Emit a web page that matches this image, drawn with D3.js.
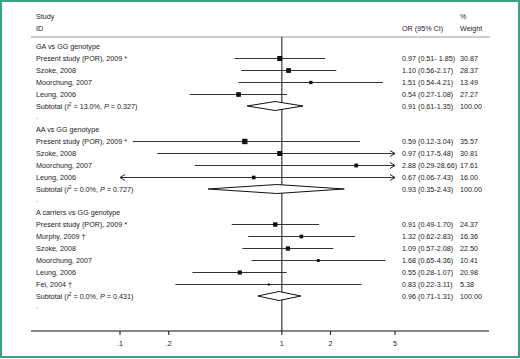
<!DOCTYPE html>
<html lang="en">
<head>
<meta charset="utf-8">
<title>Forest plot</title>
<style>
    body { margin: 0; background: #fff; }
    text { font-family: "Liberation Sans", Arial, sans-serif; font-size: 7.2px; fill: #222; }
</style>
</head>
<body>
<div id="chart"></div>
<script src="https://cdn.jsdelivr.net/npm/d3@7"></script>
<script>
    var width = 520, height = 359;

    // data
    var groups = ["GA vs GG genotype", "AA vs GG genotype", "A carriers vs GG genotype"];
    var groupStudies = [
        ["Present study (POR), 2009 *", "Szoke, 2008", "Moorchung, 2007", "Leung, 2006"],
        ["Present study (POR), 2009 *", "Szoke, 2008", "Moorchung, 2007", "Leung, 2006"],
        ["Present study (POR), 2009 *", "Murphy, 2009 \u2020", "Szoke, 2008", "Moorchung, 2007", "Leung, 2006", "Fei, 2004 \u2020"]
    ];
    var orValues = [[0.97, 1.10, 1.51, 0.54], [0.59, 0.97, 2.88, 0.67], [0.91, 1.32, 1.09, 1.68, 0.55, 0.83]];
    var ciLow = [[0.51, 0.56, 0.54, 0.27], [0.12, 0.17, 0.29, 0.06], [0.49, 0.62, 0.57, 0.65, 0.28, 0.22]];
    var ciHigh = [[1.85, 2.17, 4.21, 1.08], [3.04, 5.48, 28.66, 7.43], [1.70, 2.83, 2.08, 4.36, 1.07, 3.11]];
    var weights = [[30.87, 28.37, 13.49, 27.27], [35.57, 30.81, 17.61, 16.00], [24.37, 16.36, 22.50, 10.41, 20.98, 5.38]];
    var ciText = [
        ["0.97 (0.51- 1.85)", "1.10 (0.56-2.17)", "1.51 (0.54-4.21)", "0.54 (0.27-1.08)"],
        ["0.59 (0.12-3.04)", "0.97 (0.17-5.48)", "2.88 (0.29-28.66)", "0.67 (0.06-7.43)"],
        ["0.91 (0.49-1.70)", "1.32 (0.62-2.83)", "1.09 (0.57-2.08)", "1.68 (0.65-4.36)", "0.55 (0.28-1.07)", "0.83 (0.22-3.11)"]
    ];
    var subOR = [0.91, 0.93, 0.96];
    var subLow = [0.61, 0.35, 0.71];
    var subHigh = [1.35, 2.43, 1.31];
    var subText = ["0.91 (0.61-1.35)", "0.93 (0.35-2.43)", "0.96 (0.71-1.31)"];
    var subI2 = ["13.0%", "0.0%", "0.0%"];
    var subP = ["0.327", "0.727", "0.431"];
    var tickValues = [0.1, 0.2, 1, 2, 5];
    var tickLabels = [".1", ".2", "1", "2", "5"];

    var svg = d3.select("#chart").append("svg")
        .attr("width", width).attr("height", height);

    svg.append("rect")
        .attr("x", 1).attr("y", 1)
        .attr("width", width - 2).attr("height", height - 3)
        .attr("fill", "#fff")
        .attr("stroke", "#3aa384").attr("stroke-width", 2);

    var x = d3.scaleLog().domain([0.1, 5]).range([120, 395]);
    var rowH = 12;
    var labelX = 36, ciX = 402, wX = 460;
    var axisY = 331, topY = 37;

    // header
    svg.append("text").attr("x", labelX).attr("y", 18.5).text("Study");
    svg.append("text").attr("x", labelX).attr("y", 30.5).text("ID");
    svg.append("text").attr("x", ciX).attr("y", 30.5).text("OR (95% CI)");
    svg.append("text").attr("x", wX).attr("y", 18.5).text("%");
    svg.append("text").attr("x", wX).attr("y", 30.5).text("Weight");
    svg.append("line")
        .attr("x1", 31).attr("x2", 490).attr("y1", topY).attr("y2", topY)
        .attr("stroke", "#bbb").attr("stroke-width", 1.5);

    // null line
    svg.append("line")
        .attr("x1", x(1)).attr("x2", x(1)).attr("y1", topY).attr("y2", axisY)
        .attr("stroke", "#111").attr("stroke-width", 1);

    var sizeK = 0.9;
    var lo = x.domain()[0], hi = x.domain()[1];

    function arrow(px, py, dir) {
        svg.append("path")
            .attr("d", "M" + (px - dir * 5) + "," + (py - 3) + "L" + px + "," + py + "L" + (px - dir * 5) + "," + (py + 3))
            .attr("fill", "none").attr("stroke", "#222").attr("stroke-width", 1);
    }

    var y = 48.5;
    groups.forEach(function(g, gi) {
        svg.append("text").attr("x", labelX).attr("y", y).text(g);
        y += rowH;
        groupStudies[gi].forEach(function(s, si) {
            var cy = Math.round(y - 2.5) + 0.5;
            svg.append("text").attr("x", labelX).attr("y", y).text(s);
            svg.append("text").attr("x", ciX).attr("y", y).text(ciText[gi][si]);
            svg.append("text").attr("x", wX).attr("y", y).text(weights[gi][si].toFixed(2));
            var l = ciLow[gi][si], h = ciHigh[gi][si];
            svg.append("line")
                .attr("x1", x(Math.max(l, lo))).attr("x2", x(Math.min(h, hi)))
                .attr("y1", cy).attr("y2", cy)
                .attr("stroke", "#333").attr("stroke-width", 1);
            if (l < lo) arrow(x(lo), cy, -1);
            if (h > hi) arrow(x(hi), cy, 1);
            var sz = sizeK * Math.sqrt(weights[gi][si]);
            svg.append("rect")
                .attr("x", x(orValues[gi][si]) - sz / 2).attr("y", cy - sz / 2)
                .attr("width", sz).attr("height", sz)
                .attr("fill", "#111");
            y += rowH;
        });
        // subtotal
        var t = svg.append("text").attr("x", labelX).attr("y", y);
        t.append("tspan").text("Subtotal  (");
        t.append("tspan").attr("font-style", "italic").text("I");
        t.append("tspan").attr("font-size", "4.8px").attr("dy", -2.5).text("2");
        t.append("tspan").attr("dy", 2.5).text(" = " + subI2[gi] + ", ");
        t.append("tspan").attr("font-style", "italic").text("P");
        t.append("tspan").text(" = " + subP[gi] + ")");
        svg.append("text").attr("x", ciX).attr("y", y).text(subText[gi]);
        svg.append("text").attr("x", wX).attr("y", y).text("100.00");
        var dy = y - 2.5;
        svg.append("path")
            .attr("d", "M" + x(subLow[gi]) + "," + dy + "L" + x(subOR[gi]) + "," + (dy - 4.5) +
                "L" + x(subHigh[gi]) + "," + dy + "L" + x(subOR[gi]) + "," + (dy + 4.5) + "Z")
            .attr("fill", "#fff").attr("stroke", "#111").attr("stroke-width", 1);
        y += rowH;
        svg.append("text").attr("x", labelX).attr("y", y - 2).attr("font-size", "5px").text(".");
        y += rowH - 1;
    });

    // axis
    svg.append("line")
        .attr("x1", 31).attr("x2", 489).attr("y1", axisY).attr("y2", axisY)
        .attr("stroke", "#111").attr("stroke-width", 1);
    var ticks = svg.selectAll(".tick").data(tickValues).enter().append("g")
        .attr("transform", function(d) { return "translate(" + x(d) + "," + axisY + ")"; });
    ticks.append("line").attr("y1", 0).attr("y2", 4).attr("stroke", "#111");
    ticks.append("text")
        .attr("y", 14.5).attr("text-anchor", "middle")
        .text(function(d, i) { return tickLabels[i]; });
</script>
</body>
</html>
